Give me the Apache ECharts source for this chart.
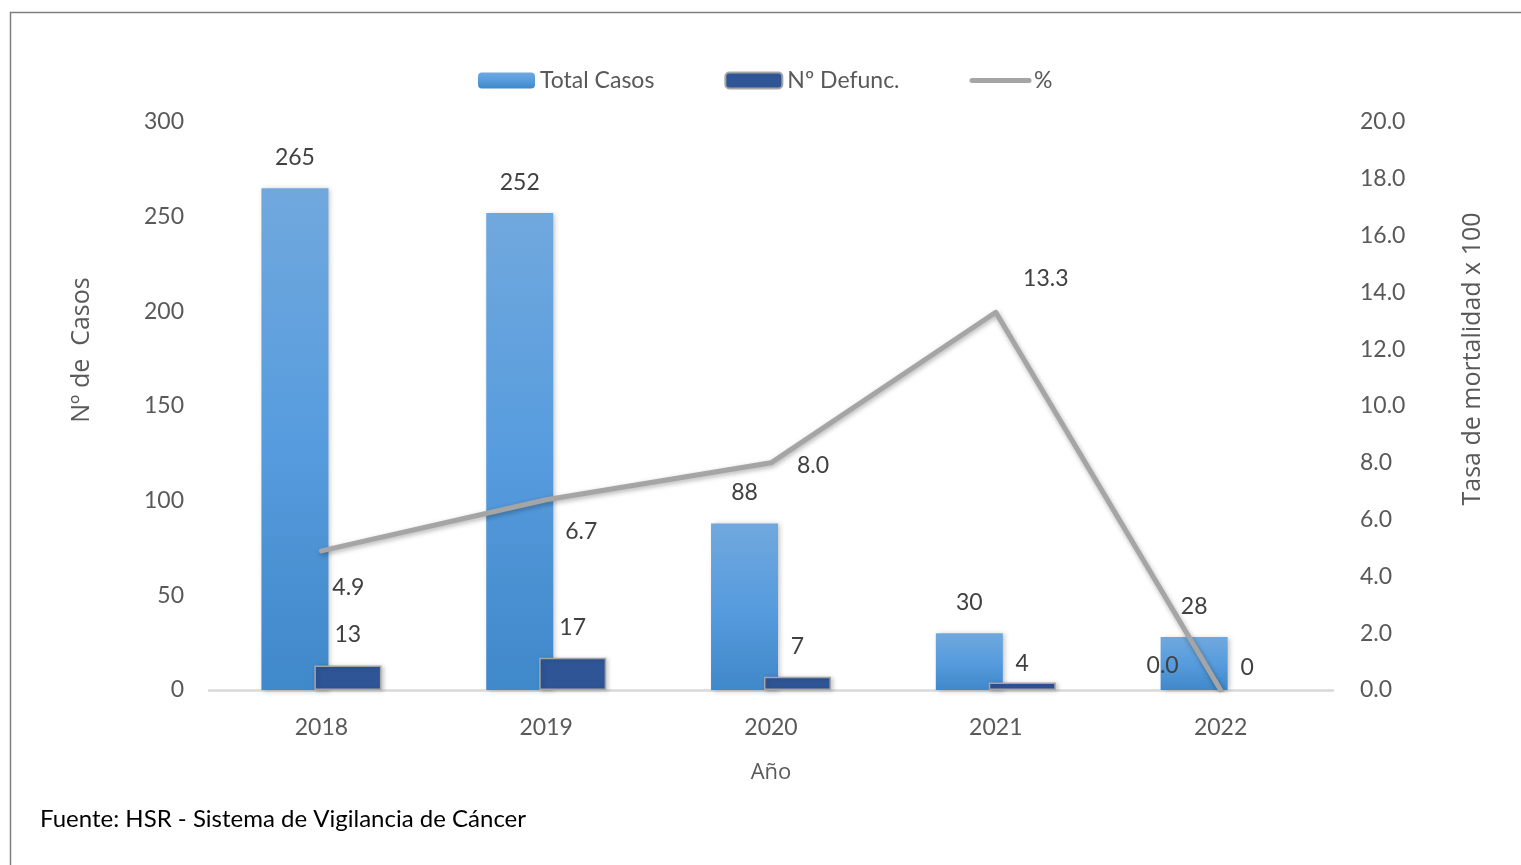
<!DOCTYPE html>
<html>
<head>
<meta charset="utf-8">
<script src="https://cdn.jsdelivr.net/npm/echarts@6/dist/echarts.min.js"></script>
<style>
html,body{margin:0;padding:0;background:#fff;}
#chart{width:1521px;height:865px;}
</style>
</head>
<body>
<div id="chart"></div>
<script>
const years = ['2018', '2019', '2020', '2021', '2022'];
const totalCasos = [265, 252, 88, 30, 28];
const defunciones = [13, 17, 7, 4, 0];
const tasa = [4.9, 6.7, 8.0, 13.3, 0.0];
const leftTicks = { min: 0, max: 300, interval: 50 };
const rightTicks = { min: 0, max: 20, interval: 2 };

// label placement for the line data labels (offset in px from the point)
const tasaLabelOffsets = [[27, 37], [35, 32], [42, 3], [50, -34], [-58, -24]];
const defLabelDist = [19, 19, 19, 7, 11];

const chart = echarts.init(document.getElementById('chart'));
const labelFont = 'Lato, "Open Sans", sans-serif';

chart.setOption({
  animation: false,
  backgroundColor: '#fff',
  grid: { left: 209, right: 188, top: 122, bottom: 175, containLabel: false },
  legend: {
    left: 473, top: 64,
    itemWidth: 57, itemHeight: 16, itemGap: 70,
    textStyle: { fontFamily: labelFont, fontSize: 23, color: '#595959' },
    data: [
      'Total Casos',
      'Nº Defunc.',
      { name: '%', itemStyle: { color: 'rgba(0,0,0,0)', borderWidth: 0, opacity: 0 },
        lineStyle: { width: 5, color: '#A5A5A5', cap: 'round' } }
    ]
  },
  xAxis: {
    type: 'category', data: years,
    name: 'Año', nameLocation: 'middle', nameGap: 72,
    nameTextStyle: { fontFamily: '"Open Sans", sans-serif', fontSize: 22, color: '#595959' },
    axisLine: { lineStyle: { color: '#D9D9D9', width: 2.5 } },
    axisTick: { show: false },
    axisLabel: { margin: 26, fontFamily: labelFont, fontSize: 23, color: '#595959' }
  },
  yAxis: [
    {
      type: 'value', min: leftTicks.min, max: leftTicks.max, interval: leftTicks.interval,
      name: 'Nº de  Casos', nameLocation: 'middle', nameGap: 115, nameRotate: 90,
      nameTextStyle: { fontFamily: '"Open Sans", sans-serif', fontSize: 25, color: '#595959',
        padding: [0, 0, 0, 112] },
      axisLine: { show: false }, axisTick: { show: false }, splitLine: { show: false },
      axisLabel: { margin: 25, fontFamily: labelFont, fontSize: 23, color: '#595959' }
    },
    {
      type: 'value', min: rightTicks.min, max: rightTicks.max, interval: rightTicks.interval,
      name: 'Tasa de mortalidad x 100', nameLocation: 'middle', nameGap: 127, nameRotate: 90,
      nameTextStyle: { fontFamily: '"Open Sans", sans-serif', fontSize: 25, color: '#595959',
        padding: [0, 0, 0, 94] },
      axisLine: { show: false }, axisTick: { show: false }, splitLine: { show: false },
      axisLabel: { margin: 27, fontFamily: labelFont, fontSize: 23, color: '#595959',
        formatter: v => v.toFixed(1) }
    }
  ],
  series: [
    {
      name: 'Total Casos', type: 'bar', yAxisIndex: 0,
      barWidth: 67, barGap: '-21%',
      data: totalCasos,
      itemStyle: {
        color: new echarts.graphic.LinearGradient(0, 0, 0, 1, [
          { offset: 0, color: '#70A8DD' },
          { offset: 0.5, color: '#579CDE' },
          { offset: 1, color: '#3F88C9' }
        ]),
        shadowBlur: 5, shadowColor: 'rgba(0,0,0,0.25)', shadowOffsetX: 2, shadowOffsetY: 1
      },
      label: { show: true, position: 'top', distance: 19,
        fontFamily: labelFont, fontSize: 23, color: '#404040' }
    },
    {
      name: 'Nº Defunc.', type: 'bar', yAxisIndex: 0,
      barWidth: 67,
      data: defunciones.map((v, i) => ({
        value: v,
        label: { distance: defLabelDist[i] },
        itemStyle: v === 0 ? { borderWidth: 0, shadowBlur: 0, shadowOffsetX: 0, shadowOffsetY: 0 } : {}
      })),
      itemStyle: {
        color: '#2F5597', borderColor: '#A5A5A5', borderWidth: 1.5,
        shadowBlur: 4, shadowColor: 'rgba(0,0,0,0.2)', shadowOffsetX: 2, shadowOffsetY: 1
      },
      label: { show: true, position: 'top',
        fontFamily: labelFont, fontSize: 23, color: '#404040' }
    },
    {
      name: '%', type: 'line', yAxisIndex: 1,
      data: tasa.map((v, i) => ({ value: v, label: { offset: tasaLabelOffsets[i] } })),
      symbol: 'circle', symbolSize: 1, showSymbol: true,
      itemStyle: { color: '#A5A5A5' },
      lineStyle: { color: '#A5A5A5', width: 5, cap: 'round', join: 'round',
        shadowBlur: 5, shadowColor: 'rgba(0,0,0,0.3)', shadowOffsetX: 1, shadowOffsetY: 2 },
      label: { show: true, position: 'inside',
        formatter: p => p.value.toFixed(1),
        fontFamily: labelFont, fontSize: 23, color: '#404040' },
      z: 3
    }
  ],
  graphic: [
    { type: 'rect', left: 8, top: 10, silent: true,
      shape: { x: 0, y: 0, width: 1600, height: 900 },
      style: { fill: 'none', stroke: '#7F7F7F', lineWidth: 1.5 } },
    { type: 'text', left: 40, top: 807,
      style: { text: 'Fuente: HSR - Sistema de Vigilancia de Cáncer',
        font: '24px Lato, "Open Sans", sans-serif', fill: '#000' } }
  ]
});
</script>
</body>
</html>
